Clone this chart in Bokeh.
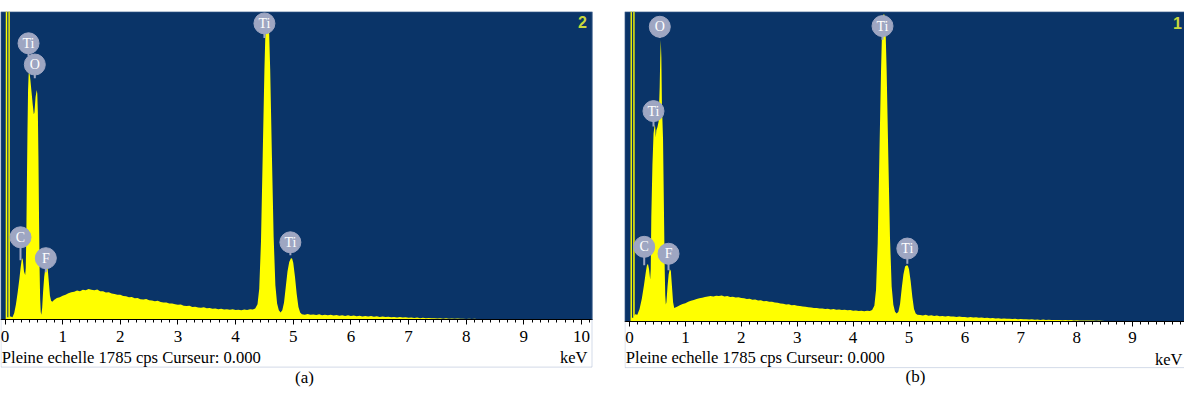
from bokeh.plotting import figure
from bokeh.models import Range1d, SingleIntervalTicker, ColumnDataSource, Label, BoxAnnotation
from bokeh.layouts import row
from bokeh.embed import file_html
from bokeh.resources import INLINE
from bokeh.core.properties import value

# ---------------- data ----------------
FULL_SCALE_CPS = 1785
CURSOR_TEXT = "Pleine echelle 1785 cps Curseur: 0.000"
UNIT_TEXT = "keV"
captions = ["(a)", "(b)"]
spectrum_numbers = ["2", "1"]

# shared channel energies (keV)
bg_kev = [0.85, 0.90, 0.95, 1.00, 1.05, 1.10, 1.15, 1.20, 1.25, 1.30,
          1.35, 1.40, 1.45, 1.50, 1.55, 1.60, 1.65, 1.70, 1.75, 1.80,
          1.85, 1.90, 1.95, 2.00, 2.05, 2.10, 2.15, 2.20, 2.25, 2.30,
          2.35, 2.40, 2.45, 2.50, 2.55, 2.60, 2.65, 2.70, 2.75, 2.80,
          2.85, 2.90, 2.95, 3.00, 3.05, 3.10, 3.15, 3.20, 3.25, 3.30,
          3.35, 3.40, 3.45, 3.50, 3.55, 3.60, 3.65, 3.70, 3.75, 3.80,
          3.85, 3.90, 3.95, 4.00, 4.05, 4.10, 4.15, 4.20, 4.25, 4.30]
ti_kev = [4.34, 4.38, 4.41, 4.44, 4.47, 4.50, 4.52, 4.54, 4.56, 4.58,
          4.60, 4.63, 4.66, 4.69, 4.72, 4.75, 4.78, 4.81, 4.84, 4.87,
          4.90, 4.93, 4.96, 4.98, 5.00, 5.03, 5.06, 5.09, 5.12, 5.15]
tail_kev = [5.20, 5.25, 5.30, 5.35, 5.40, 5.45, 5.50, 5.55, 5.60, 5.65,
            5.70, 5.75, 5.80, 5.85, 5.90, 5.95, 6.00, 6.05, 6.10, 6.15,
            6.20, 6.25, 6.30, 6.35, 6.40, 6.45, 6.50, 6.55, 6.60, 6.65,
            6.70, 6.75, 6.80, 6.85, 6.90, 6.95, 7.00, 7.05, 7.10, 7.15,
            7.20, 7.25, 7.30, 7.35, 7.40, 7.45, 7.50, 7.55, 7.60, 7.65,
            7.70, 7.75, 7.80, 7.85, 7.90, 7.95, 8.00, 8.05, 8.10, 8.15,
            8.20, 8.25, 8.30, 8.35, 8.40, 8.45, 8.50, 8.55, 8.60, 8.65,
            8.70, 8.75, 8.80, 8.85, 8.90, 8.95, 9.00, 10.0]

# ---- spectrum (a)
low_kev_a = [0.00, 0.012, 0.014, 0.038, 0.040, 0.058, 0.060, 0.082, 0.085, 0.10,
             0.13, 0.16, 0.19, 0.22, 0.25, 0.27, 0.29, 0.30, 0.31, 0.33,
             0.35, 0.36, 0.37, 0.38, 0.39, 0.40, 0.41, 0.42, 0.44, 0.46,
             0.48, 0.50, 0.51, 0.53, 0.55, 0.56, 0.57, 0.58, 0.59, 0.60,
             0.61, 0.62, 0.63, 0.645, 0.66, 0.68, 0.70, 0.72, 0.74, 0.76,
             0.78, 0.80, 0.82]
low_cps_a = [0, 0, 3000, 3000, 15, 15, 3000, 3000, 20, 20,
             15, 40, 90, 160, 240, 300, 350, 357, 345, 280,
             260, 300, 500, 800, 1100, 1330, 1420, 1445, 1390, 1320,
             1250, 1190, 1200, 1290, 1330, 1310, 1200, 950, 600, 300,
             120, 45, 30, 70, 160, 250, 300, 317, 300, 220,
             140, 110, 105]
bg_cps_a = [115, 126, 131, 140, 146, 154, 160, 163, 170, 166,
            175, 172, 179, 174, 172, 176, 166, 165, 158, 160,
            152, 150, 146, 145, 138, 137, 131, 132, 125, 127,
            120, 118, 121, 113, 112, 108, 110, 103, 100, 101,
            95, 94, 90, 88, 89, 82, 80, 81, 75, 76,
            72, 70, 73, 67, 68, 65, 66, 62, 64, 60,
            62, 58, 61, 57, 59, 56, 60, 57, 62, 60]
ti_cps_a = [66, 90, 180, 450, 950, 1450, 1700, 1775, 1775, 1690,
            1450, 950, 480, 200, 95, 55, 42, 55, 100, 190,
            280, 335, 357, 355, 330, 250, 150, 75, 42, 33]
tail_cps_a = [30, 34, 29, 31, 28, 33, 27, 30, 26, 29,
              25, 28, 24, 27, 23, 26, 22, 25, 21, 24,
              20, 22, 19, 23, 18, 21, 17, 19, 16, 18,
              15, 17, 14, 16, 13, 15, 12, 14, 11, 13,
              10, 12, 9, 11, 9, 10, 8, 10, 7, 9,
              7, 8, 6, 8, 6, 7, 5, 6, 5, 6,
              4, 5, 4, 4, 3, 4, 3, 3, 2, 3,
              2, 2, 1, 2, 1, 0, 0, 0]
peak_names_a = ["Ti", "O", "C", "F", "Ti", "Ti"]
peak_kev_a = [0.408, 0.517, 0.269, 0.708, 4.50, 4.95]
peak_tag_cps_a = [1601, 1478, 478, 357, 1716, 449]
peak_stem_cps_a = [1526, 1399, 345, 276, 1631, 374]

# ---- spectrum (b)
low_kev_b = [0.00, 0.018, 0.020, 0.042, 0.044, 0.066, 0.068, 0.090, 0.093, 0.10,
             0.14, 0.18, 0.22, 0.26, 0.29, 0.31, 0.33, 0.35, 0.37, 0.38,
             0.39, 0.41, 0.43, 0.45, 0.46, 0.47, 0.48, 0.50, 0.52, 0.54,
             0.55, 0.56, 0.57, 0.58, 0.60, 0.62, 0.63, 0.64, 0.65, 0.66,
             0.68, 0.70, 0.72, 0.74, 0.76, 0.78, 0.80, 0.82]
low_cps_b = [0, 0, 3000, 3000, 20, 20, 3000, 3000, 30, 40,
             37, 70, 130, 210, 280, 320, 331, 300, 240, 300,
             600, 900, 1080, 1133, 1120, 1060, 1100, 1120, 1150, 1350,
             1520, 1622, 1520, 1250, 1050, 550, 300, 150, 96, 110,
             200, 270, 301, 290, 200, 110, 76, 80]
bg_cps_b = [84, 92, 100, 104, 112, 118, 122, 128, 133, 136,
            140, 143, 146, 142, 147, 145, 148, 143, 145, 140,
            141, 137, 139, 134, 133, 128, 130, 124, 125, 120,
            121, 116, 117, 112, 113, 108, 106, 103, 101, 97,
            98, 93, 94, 89, 88, 85, 83, 81, 79, 76,
            77, 73, 74, 71, 72, 68, 70, 67, 68, 65,
            66, 63, 65, 61, 62, 59, 61, 58, 60, 59]
ti_cps_b = [65, 90, 180, 450, 950, 1450, 1700, 1768, 1768, 1690,
            1450, 950, 480, 200, 95, 55, 45, 55, 100, 190,
            270, 315, 323, 320, 300, 230, 140, 70, 45, 38]
tail_cps_b = [36, 33, 37, 32, 34, 30, 33, 29, 31, 28,
              30, 27, 28, 25, 27, 24, 25, 22, 24, 21,
              23, 20, 21, 19, 20, 17, 19, 16, 17, 15,
              16, 14, 15, 13, 14, 12, 13, 11, 12, 10,
              11, 9, 10, 8, 10, 8, 9, 7, 8, 7,
              8, 6, 7, 6, 7, 5, 6, 5, 5, 4,
              5, 4, 4, 3, 4, 3, 2, 2, 1, 1,
              1, 0, 1, 0, 0, 0, 0, 0]
peak_names_b = ["O", "Ti", "C", "F", "Ti", "Ti"]
peak_kev_b = [0.542, 0.429, 0.263, 0.698, 4.526, 4.97]
peak_tag_cps_b = [1697, 1211, 429, 389, 1701, 419]
peak_stem_cps_b = [1632, 1123, 323, 294, 1622, 331]

# ---------------- style ----------------
PAGE_H = 387
AXIS_RESERVE = 7   # px that the bottom axis panel keeps below the frame
BLUE = "#0a3468"
YELLOW = "#ffff00"
TAG = "#9ea6c2"
BORDER = "#6a84b4"
SERIF = "Liberation Serif"


def make_panel(kev, cps, names, tag_kev, tag_cps, stem_cps, caption, number, g):
    assert len(kev) == len(cps)
    cpp = FULL_SCALE_CPS / (g["zero_py"] - g["box_top"])

    def kx(px):  # page pixel -> keV
        return (px - g["zero_px"]) / g["px_per_kev"]

    def cy(py):  # page pixel -> cps
        return (g["zero_py"] - py) * cpp

    frame_left = g["left"]
    frame_right = g["left"] + g["width"]
    frame_top = g["box_top"]
    frame_bottom = 8 + PAGE_H - AXIS_RESERVE
    p = figure(width=g["width"], height=PAGE_H, output_backend="svg", toolbar_location=None,
               x_range=Range1d(kx(frame_left), kx(frame_right)),
               y_range=Range1d(cy(frame_bottom), cy(frame_top)),
               y_axis_location=None,
               min_border_left=0, min_border_right=0,
               min_border_top=frame_top - 8, min_border_bottom=0)
    p.background_fill_color = "white"
    p.border_fill_color = "white"
    p.outline_line_color = None
    p.grid.visible = False

    bl, br, bb = g["box_left"], g["box_right"], g["box_bottom"]
    # dark-blue spectrum field above the energy axis
    p.add_layout(BoxAnnotation(left=kx(bl), right=kx(br), bottom=0, fill_color=BLUE,
                               fill_alpha=1, line_color=None, level="underlay"))

    p.varea(x=kev, y1=0, y2=cps, fill_color=YELLOW)

    src = ColumnDataSource(dict(x=tag_kev, y=tag_cps, y0=stem_cps, t=names))
    p.segment(x0="x", y0="y", x1="x", y1="y0", source=src, line_color=TAG, line_width=2)
    p.scatter(x="x", y="y", source=src, marker="circle", size=21,
              fill_color=TAG, line_color=TAG, line_width=1)
    p.text(x="x", y="y", text="t", source=src, text_color="white",
           text_font=value(SERIF), text_font_size="14px",
           text_align="center", text_baseline="middle")

    ax = p.xaxis[0]
    ax.fixed_location = 0
    ax.bounds = (kx(bl), kx(min(br, frame_right)))
    ax.ticker = SingleIntervalTicker(interval=1, num_minor_ticks=7)
    ax.axis_line_color = "black"
    ax.major_tick_line_color = "black"
    ax.minor_tick_line_color = "black"
    ax.major_tick_in = 0
    ax.major_tick_out = 5
    ax.minor_tick_in = 0
    ax.minor_tick_out = 3
    ax.major_label_text_font = SERIF
    ax.major_label_text_font_size = "17px"
    ax.major_label_text_color = "black"
    ax.major_label_standoff = 6

    # panel frame line
    p.add_layout(BoxAnnotation(left=kx(bl + 0.5), right=kx(br - 0.5),
                               top=cy(frame_top + 0.5), bottom=cy(bb - 0.5),
                               fill_color=None, fill_alpha=0, line_color=BORDER,
                               line_width=1, level="overlay"))

    cx, cyy = g["cursor_xy"]
    p.add_layout(Label(x=kx(cx), y=cy(cyy), text=CURSOR_TEXT, text_font=SERIF,
                       text_font_size="16.6px", text_color="black",
                       text_align="left", text_baseline="middle"))
    ux, uy = g["unit_xy"]
    p.add_layout(Label(x=kx(ux), y=cy(uy), text=UNIT_TEXT, text_font=SERIF,
                       text_font_size="16.5px", text_color="black",
                       text_align="right", text_baseline="middle"))
    nx, ny = g["number_xy"]
    p.add_layout(Label(x=kx(nx), y=cy(ny), text=number, text_font="Liberation Sans",
                       text_font_size="16px", text_font_style="bold", text_color="#c8d83c",
                       text_align="center", text_baseline="middle"))
    tx, ty = g["caption_xy"]
    p.add_layout(Label(x=kx(tx), y=cy(ty), text=caption, text_font=SERIF,
                       text_font_size="17px", text_color="black",
                       text_align="center", text_baseline="middle"))
    return p


geo_a = dict(left=8, width=624, box_left=8, box_right=600, box_top=10, box_bottom=368,
             zero_py=320, zero_px=12.5, px_per_kev=57.65,
             cursor_xy=(9.3, 358), unit_xy=(595, 358), number_xy=(590, 21),
             caption_xy=(312, 377.5))
geo_b = dict(left=632, width=560, box_left=632, box_right=1230, box_top=19, box_bottom=369,
             zero_py=323, zero_px=637, px_per_kev=55.9,
             cursor_xy=(633.3, 358.5), unit_xy=(1190, 361), number_xy=(1185, 30),
             caption_xy=(923, 377.5))

kev_a = low_kev_a + bg_kev + ti_kev + tail_kev
cps_a = low_cps_a + bg_cps_a + ti_cps_a + tail_cps_a
kev_b = low_kev_b + bg_kev + ti_kev + tail_kev
cps_b = low_cps_b + bg_cps_b + ti_cps_b + tail_cps_b

pa = make_panel(kev_a, cps_a, peak_names_a, peak_kev_a, peak_tag_cps_a, peak_stem_cps_a,
                captions[0], spectrum_numbers[0], geo_a)
pb = make_panel(kev_b, cps_b, peak_names_b, peak_kev_b, peak_tag_cps_b, peak_stem_cps_b,
                captions[1], spectrum_numbers[1], geo_b)

layout = row(pa, pb)
open("out.html", "w").write(file_html(layout, INLINE))
